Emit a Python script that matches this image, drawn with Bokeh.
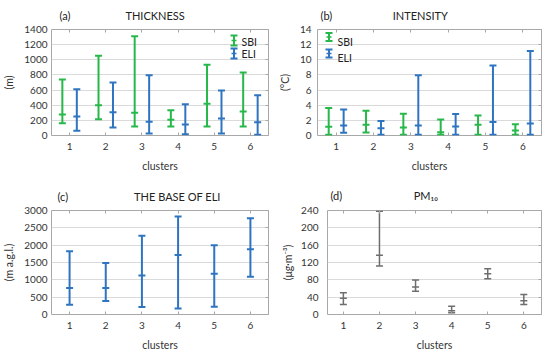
from bokeh.plotting import figure
from bokeh.models import ColumnDataSource, Range1d, LinearAxis, Label, Arrow, TeeHead, Title
from bokeh.layouts import column, row
from bokeh.embed import file_html
from bokeh.resources import INLINE

# ---------------- data ----------------
clusters = [1, 2, 3, 4, 5, 6]

thick_sbi_min = [163, 216, 119, 119, 119, 119]
thick_sbi_med = [277, 400, 300, 207, 418, 317]
thick_sbi_max = [740, 1052, 1312, 335, 933, 832]
thick_eli_min = [62, 106, 26, 18, 26, 9]
thick_eli_med = [251, 308, 180, 145, 225, 176]
thick_eli_max = [612, 700, 797, 414, 594, 533]

int_sbi_min = [0.1, 0.4, 0.1, 0.1, 0.1, 0.1]
int_sbi_med = [1.15, 1.41, 1.06, 0.44, 1.41, 0.66]
int_sbi_max = [3.62, 3.27, 2.87, 2.12, 2.65, 1.5]
int_eli_min = [0.35, 0.1, 0.1, 0.1, 0.1, 0.1]
int_eli_med = [1.33, 0.97, 1.33, 1.19, 1.77, 1.59]
int_eli_max = [3.45, 1.9, 7.95, 2.83, 9.23, 11.17]

base_min = [284, 388, 218, 170, 227, 1088]
base_med = [767, 767, 1126, 1713, 1173, 1883]
base_max = [1826, 1486, 2271, 2830, 1997, 2773]

pm_min = [23, 112, 53.5, 3.8, 82.5, 23]
pm_med = [37.5, 137, 63.4, 8.4, 94, 32]
pm_max = [50, 238, 79.5, 19, 105.5, 46]

thick_ticks = [0, 200, 400, 600, 800, 1000, 1200, 1400]
int_ticks = [0, 2, 4, 6, 8, 10, 12, 14]
base_ticks = [0, 500, 1000, 1500, 2000, 2500, 3000]
pm_ticks = [0, 40, 80, 120, 160, 200, 240]

# ---------------- style ----------------
GREEN = "#27b84a"
BLUE = "#2f74c0"
GREY = "#6e6e6e"
FRAME = "#a8a8a8"
GRID = "#dadada"
TXT = "#333333"
FONT = "Lato"
EM = "\u2003"
EN = "\u2002"
NB = "\u00a0"


def make_fig(w, h, bl, br, bt, bb, xr, yr, yticks, ylabel, lab_off, ax_std):
    p = figure(width=w, height=h, x_range=Range1d(*xr), y_range=Range1d(*yr),
               output_backend="svg", toolbar_location=None,
               min_border_left=bl, min_border_right=br,
               min_border_top=bt, min_border_bottom=bb)
    p.outline_line_color = FRAME
    p.outline_line_width = 1
    p.xgrid.visible = False
    p.ygrid.grid_line_color = GRID
    p.ygrid.grid_line_width = 1

    xa = p.xaxis[0]
    xa.ticker = clusters
    xa.axis_line_color = None
    xa.major_tick_in = 3
    xa.major_tick_out = 0
    xa.major_tick_line_color = FRAME
    xa.minor_tick_line_color = None
    xa.major_label_standoff = 7
    xa.major_label_text_font = FONT
    xa.major_label_text_font_size = "10px"
    xa.major_label_text_color = TXT
    xa.axis_label = "clusters"
    xa.axis_label_text_font = FONT
    xa.axis_label_text_font_style = "normal"
    xa.axis_label_text_font_size = "10.5px"
    xa.axis_label_text_color = TXT
    xa.axis_label_standoff = 7

    ya = p.yaxis[0]
    ya.ticker = yticks
    ya.axis_line_color = None
    ya.major_tick_in = 0
    ya.major_tick_out = 0
    ya.minor_tick_line_color = None
    ya.major_label_standoff = lab_off
    ya.major_label_text_font = FONT
    ya.major_label_text_font_size = "10px"
    ya.major_label_text_color = TXT
    ya.axis_label = ylabel
    ya.axis_label_text_font = FONT
    ya.axis_label_text_font_style = "normal"
    ya.axis_label_text_font_size = "10.5px"
    ya.axis_label_text_color = TXT
    ya.axis_label_standoff = ax_std

    top = LinearAxis(ticker=clusters, axis_line_color=None, major_tick_in=3, major_tick_out=0,
                     major_tick_line_color=FRAME, minor_tick_line_color=None,
                     major_label_overrides={c: "" for c in clusters},
                     major_label_text_color=None, major_label_standoff=0)
    p.add_layout(top, "above")
    right = LinearAxis(ticker=yticks, axis_line_color=None, major_tick_in=3, major_tick_out=0,
                       major_tick_line_color=FRAME, minor_tick_line_color=None,
                       major_label_overrides={t: "" for t in yticks},
                       major_label_text_color=None, major_label_standoff=0)
    p.add_layout(right, "right")
    return p


def errbars(p, xs, lo, med, hi, color, lw=2, cap=7):
    src = ColumnDataSource(dict(x=xs, lo=lo, med=med, hi=hi))
    p.segment(x0="x", y0="lo", x1="x", y1="hi", source=src, line_color=color, line_width=lw)
    for col in ("lo", "med", "hi"):
        p.scatter(x="x", y=col, source=src, marker="dash", size=cap,
                  line_color=color, line_width=lw, fill_color=None)


def title(p, text, offset, standoff):
    p.add_layout(Title(text=text, align="left", vertical_align="top",
                       offset=offset, standoff=standoff,
                       text_font=FONT, text_font_size="11px", text_font_style="normal",
                       text_color="#222222"), "above")


def legend_entry(p, fx, y_top, y_bot, color, text, tx, ty):
    p.add_layout(Arrow(x_start=fx, y_start=y_bot, x_end=fx, y_end=y_top,
                       start_units="screen", end_units="screen",
                       start=TeeHead(size=7, line_color=color, line_width=2),
                       end=TeeHead(size=7, line_color=color, line_width=2),
                       line_color=color, line_width=2))
    mid = (y_top + y_bot) / 2
    p.add_layout(Arrow(x_start=fx - 2.5, y_start=mid, x_end=fx + 2.5, y_end=mid,
                       start_units="screen", end_units="screen", start=None, end=None,
                       line_color=color, line_width=1.5))
    p.add_layout(Label(x=tx, y=ty, x_units="screen", y_units="screen", text=text,
                       text_align="left", text_baseline="middle",
                       text_font=FONT, text_font_size="10.5px", text_color="#222222"))


x_sbi = [c - 0.2 for c in clusters]
x_eli = [c + 0.2 for c in clusters]

# (a) THICKNESS
pa = make_fig(275, 178, 51, 7, 29, 43, (0.5, 6.5), (0, 1400), thick_ticks, "(m)", 4, 6)
errbars(pa, x_sbi, thick_sbi_min, thick_sbi_med, thick_sbi_max, GREEN)
errbars(pa, x_eli, thick_eli_min, thick_eli_med, thick_eli_max, BLUE)
title(pa, "(a)" + EM * 6 + EN + "THICKNESS", 8, 11)
legend_entry(pa, 182.5, 100, 90, GREEN, "SBI", 190, 94)
legend_entry(pa, 182.5, 87, 77, BLUE, "ELI", 190, 82)

# (b) INTENSITY
pb = make_fig(275, 178, 41, 9, 29, 43, (0.5, 6.5), (0, 14), int_ticks, "(°C)", 6, 6)
errbars(pb, x_sbi, int_sbi_min, int_sbi_med, int_sbi_max, GREEN)
errbars(pb, x_eli, int_eli_min, int_eli_med, int_eli_max, BLUE)
title(pb, "(b)" + EM * 7 + NB + "INTENSITY", 3, 11)
legend_entry(pb, 11.5, 102.5, 94.5, GREEN, "SBI", 20, 93.5)
legend_entry(pb, 11.5, 86, 78, BLUE, "ELI", 20, 78)

# (c) THE BASE OF ELI
pc = make_fig(275, 180, 51, 7, 31, 44, (0.5, 6.5), (0, 3000), base_ticks, "(m a.g.l.)", 4, 6)
errbars(pc, clusters, base_min, base_med, base_max, BLUE)
title(pc, "(c)" + EM * 8 + "THE BASE OF ELI", 6, 12)

# (d) PM10
pd_ = make_fig(275, 180, 52, 9, 32, 43, (0.56, 6.49), (0, 240), pm_ticks, "(μg·m⁻³)", 9, 4)
errbars(pd_, clusters, pm_min, pm_med, pm_max, GREY, lw=1.5, cap=7)
title(pd_, "(d)" + EM * 8 + EN + "PM₁₀", 3, 13)

layout = column(row(pa, pb), row(pc, pd_))
open("out.html", "w").write(file_html(layout, INLINE))
